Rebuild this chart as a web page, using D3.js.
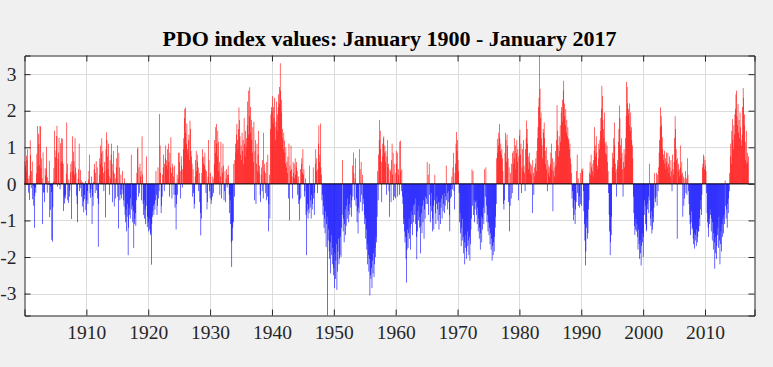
<!DOCTYPE html>
<html>
<head>
<meta charset="utf-8">
<script src="https://cdn.jsdelivr.net/npm/d3@7"></script>
<style>
  body { margin: 0; background: #f0f0f0; }
  svg text { font-family: "Liberation Serif", "Times New Roman", serif; }
</style>
</head>
<body>
<script>
// monthly PDO index, one decade per array (Jan..Dec each row)
let pdo1900s = [
  0.04, 0.62, 0.49, 0.35, 0.77, 0.65, 0.95, 0.14, -0.24, 0.23, -0.44, 1.19,
  0.79, -0.12, 0.35, 0.61, -0.42, -0.05, -0.60, -1.20, -0.33, -0.10, -0.24, 0.29,
  0.82, 1.58, 0.48, 1.37, 1.09, 0.52, 1.58, 1.57, 0.44, 0.70, 0.16, -1.10,
  0.86, -0.24, -0.22, -0.50, 0.43, 0.23, 0.40, 1.01, -0.24, 0.18, 0.08, -0.03,
  0.63, -0.91, -0.71, -0.07, -0.22, -1.53, -1.58, -0.64, 0.06, 0.43, 1.45, 0.06,
  0.73, 0.91, 1.31, 1.59, -0.07, 0.69, 0.85, 1.26, -0.03, -0.15, 1.11, 0.58,
  1.25, 0.62, 1.23, 0.55, -0.74, -0.36, -0.54, -0.40, -0.30, 0.28, 1.68, 0.55,
  -0.45, -0.52, 0.12, -0.35, -0.18, 0.32, 0.55, -0.96, 0.62, 1.30, 0.35, 0.88,
  0.62, 0.25, 1.25, 0.45, 0.30, -0.32, -0.55, -1.05, 0.15, 0.40, 1.10, -0.20,
  -0.12, 0.38, 0.10, -0.35, -0.62, 0.05, -0.48, -0.78, -0.30, -0.42, 0.08, -0.72
];
let pdo1910s = [
  -0.86, -0.45, -0.20, -0.55, 0.12, 0.35, 0.80, -0.25, -0.38, -0.15, 0.20, -1.10,
  -0.35, -0.60, 0.05, 0.40, 0.55, -0.25, 0.30, 0.62, -0.18, 0.45, -0.40, -1.72,
  -0.55, 0.25, 0.70, 1.05, 0.55, 0.85, 1.25, 0.45, 0.90, 0.30, -0.20, 0.60,
  0.35, -0.92, 0.95, 1.41, 1.20, 0.75, 0.40, 1.10, 0.22, -0.30, 0.65, 0.15,
  0.80, 1.10, 0.55, -0.50, 0.35, 0.90, -0.62, 0.28, 0.15, -0.40, 0.45, 0.70,
  1.05, -0.35, -1.22, 0.85, 0.45, -0.45, -0.30, 0.25, -0.40, -0.15, 0.35, -0.28,
  -0.45, -0.62, 0.15, -0.85, -1.05, -0.70, -1.30, -0.90, -0.55, -1.95, -1.20, -0.65,
  -0.85, -0.95, -0.40, 0.80, -0.70, -0.60, -1.05, -0.75, -1.75, -1.10, -0.95, -0.80,
  -1.15, -0.45, 0.30, 0.95, 1.00, -0.35, 0.45, -0.25, 0.55, 0.20, 0.35, -0.45,
  1.30, 0.25, -0.55, -0.85, -0.45, -0.95, -0.70, -1.10, -0.60, 0.75, -1.18, -0.90
];
let pdo1920s = [
  -1.05, -1.30, -1.25, -0.95, -1.40, -1.35, -2.21, -1.10, -0.90, -0.75, -0.60, -0.85,
  -0.55, -0.70, -0.45, 0.35, -0.30, -0.85, -0.60, 0.45, -0.40, -0.20, 1.91, 1.05,
  0.30, -0.80, -0.60, -0.35, 0.25, 0.45, 0.80, -0.20, 0.55, 0.70, 1.05, 0.50,
  0.65, 0.95, 0.40, 1.10, 0.60, -0.35, 0.85, 0.45, 1.27, 0.30, -0.40, 0.55,
  0.45, 0.20, -0.30, 0.50, -0.65, -0.30, -1.25, -0.55, 0.25, -0.30, 0.15, 0.85,
  0.85, 0.60, 0.35, -0.40, 0.75, 0.50, -0.10, 0.40, 0.95, 1.25, 1.80, 2.05,
  2.09, 1.40, 1.10, 1.65, 0.95, 0.80, 1.20, 1.35, 0.65, 1.73, 1.50, 0.90,
  0.75, 0.55, -0.35, 0.40, -0.25, -0.68, -0.55, 0.20, 0.65, 0.90, 0.35, 0.80,
  0.60, 0.45, -0.20, 0.30, -0.50, -0.80, -1.41, -0.95, 0.30, 0.95, 0.70, 0.55,
  0.75, 0.50, 0.85, 0.40, -0.25, 0.35, -0.70, -0.50, 0.20, 1.20, 0.65, -0.20
];
let pdo1930s = [
  -0.40, 0.30, -0.55, -0.45, 0.20, -0.35, 0.15, -0.25, 0.55, 1.20, 0.85, 1.55,
  1.64, 1.10, 0.75, 1.45, 1.15, 0.35, 0.60, -0.30, 0.20, 1.15, -0.40, 0.45,
  0.30, 1.10, 0.50, -0.45, -0.20, 0.35, -0.50, 0.15, 0.40, -0.10, 0.25, 0.50,
  0.25, -0.30, -0.80, -0.45, -1.10, -1.60, -2.27, -1.55, -1.20, -1.05, 0.55, -0.35,
  0.65, 1.10, 0.85, 1.35, 1.64, 1.20, 0.95, 1.50, 2.09, 1.75, 1.30, 0.80,
  1.05, 0.65, 1.40, 0.90, 1.20, 0.55, 1.80, 1.10, 0.75, 1.45, 1.00, 1.25,
  1.60, 2.25, 1.35, 2.55, 1.85, 2.64, 2.10, 1.40, 1.75, 1.20, 0.85, 1.55,
  0.60, 1.70, -0.45, 0.90, 1.20, -0.55, 0.55, 1.10, 0.35, 0.80, 1.45, 0.30,
  0.50, -0.30, -0.50, 0.25, 0.45, -0.20, 0.65, -0.40, 1.40, 0.35, 0.55, -0.25,
  0.30, -0.45, 0.60, -0.35, 0.80, -1.30, -0.55, 0.25, -0.95, 1.50, 1.90, 2.10
];
let pdo1940s = [
  2.00, 2.40, 1.65, 2.10, 1.80, 2.35, 1.55, 1.20, 1.70, 2.25, 1.45, 1.90,
  2.10, 2.45, 2.20, 2.65, 3.30, 2.55, 1.95, 2.30, 1.50, 1.25, 0.95, 1.40,
  1.18, 0.85, 0.55, 1.00, 0.45, 0.60, 0.30, 0.75, -0.40, 1.10, -1.00, 0.50,
  0.35, 1.05, 0.40, 0.20, -0.40, 0.60, 0.30, 0.55, 0.15, 0.70, 0.25, 0.45,
  0.60, 0.35, -0.30, 0.20, -0.55, -1.00, -0.45, 0.40, -0.40, 0.55, 0.70, 0.30,
  0.95, 0.25, 0.40, -0.35, -0.20, 0.15, -0.85, -1.95, -0.75, -0.55, -0.95, -0.70,
  -0.80, 0.50, -0.65, -0.45, -0.95, -0.30, -0.70, -0.55, 0.45, -0.40, -0.85, -0.25,
  0.55, 0.95, 0.35, 0.70, -0.25, 0.40, 1.10, 1.60, 0.60, 0.80, 1.65, 0.45,
  0.25, -0.45, -0.30, -0.85, -0.60, -1.20, -0.95, -1.35, -0.75, -1.73, -1.10, -0.90,
  -3.60, -1.55, -1.25, -1.85, -2.05, -1.60, -2.45, -1.40, -1.95, -2.20, -1.75, -2.50
];
let pdo1950s = [
  -2.30, -2.85, -1.90, -2.60, -2.10, -1.65, -2.90, -2.40, -1.85, -1.50, -2.20, -2.05,
  -1.95, -1.45, -2.00, -1.20, -0.85, 0.65, -1.30, -0.95, -1.60, -1.10, -0.70, -1.40,
  -1.15, -0.60, -0.95, -0.40, -0.75, -1.05, -0.55, -0.85, -0.30, -0.65, -0.90, -0.45,
  0.50, -0.35, 0.86, 0.30, -0.45, 0.15, 0.70, -0.60, -0.40, -1.05, -0.75, -1.36,
  -0.65, -0.80, 0.95, 0.40, -0.50, 0.60, -0.30, -0.75, 0.25, -0.55, -0.40, -0.85,
  -1.10, -0.95, -1.50, -1.25, -1.80, -2.20, -1.65, -1.95, -2.40, -2.05, -3.05, -2.50,
  -2.60, -2.30, -2.85, -2.10, -2.45, -1.90, -2.55, -2.20, -1.75, -2.00, -1.45, -1.60,
  -0.90, 0.35, -0.45, 0.80, 1.20, 1.75, 1.45, 0.95, 0.60, -0.50, 0.75, 1.10,
  1.25, 1.30, 0.85, 1.05, 0.60, 0.90, -0.30, 0.75, 1.20, 0.45, 0.55, -0.20,
  -0.90, 0.40, 0.35, -0.50, 0.65, 1.10, 0.25, 0.85, -0.45, 0.55, -0.35, 0.30
];
let pdo1960s = [
  -0.40, 0.90, 0.55, 0.85, -0.35, 0.40, 0.25, -0.30, 1.15, 1.18, 0.35, -0.20,
  0.40, -0.35, -0.55, -1.10, -0.95, -1.30, -1.60, -1.45, -2.05, -2.70, -1.80, -1.25,
  -1.75, -1.35, -0.95, -1.50, -1.20, -1.80, -0.75, -1.10, -0.85, -1.40, -0.60, -1.05,
  -0.55, -0.85, -1.10, -0.40, -1.45, -2.06, -1.30, -0.75, -1.00, -0.60, -1.20, -0.90,
  -1.90, -1.15, -0.80, -1.35, -0.60, -1.05, -0.45, -1.50, -0.70, -0.95, -0.35, -0.55,
  -0.40, 0.60, -0.55, 0.25, -0.85, 0.55, -0.30, -1.05, -0.60, -0.25, -0.75, -1.30,
  -0.95, -0.60, -1.25, -0.45, 0.25, -0.80, -1.10, -0.55, -0.35, -0.70, -1.00, -0.50,
  -1.25, -0.85, -0.50, -1.10, -0.65, -0.40, -0.95, -0.30, -0.75, -0.55, -0.25, -0.80,
  -0.60, -0.35, 0.50, -0.45, -0.25, -0.70, -0.20, -0.50, -0.85, -1.30, -0.40, -0.15,
  -0.35, 0.20, -0.15, 0.45, 0.85, -0.20, -0.70, 0.30, 0.55, 1.10, 1.42, 0.90
];
let pdo1970s = [
  1.20, 0.65, 0.35, -0.25, -1.05, -0.80, -1.35, -1.70, -1.20, -1.55, -0.95, -1.45,
  -1.90, -1.60, -2.20, -1.75, -1.40, -2.05, -1.85, -1.30, -1.70, -1.55, -1.95, -1.45,
  -2.10, -1.65, -1.25, -0.95, 0.40, -0.60, 0.35, -0.85, -0.45, -1.05, -0.70, -0.50,
  -0.45, -0.85, -1.10, -0.65, -1.30, -0.95, -1.50, -1.20, -1.80, -1.35, -0.90, -1.60,
  -1.25, -0.95, -0.65, -1.10, 0.40, -0.80, -0.35, 0.45, -0.60, -1.05, -0.85, -1.30,
  -1.05, -1.40, -1.20, -1.65, -1.35, -1.80, -1.50, -2.10, -1.70, -1.95, -1.60, -1.85,
  -1.45, -1.20, -0.90, -0.55, 0.70, 1.23, 0.85, 1.05, 1.40, 1.64, 1.25, 0.90,
  1.10, 0.80, 0.95, 0.70, 0.35, -0.55, -0.70, -0.45, 0.85, 1.40, 1.20, 0.60,
  1.35, 1.05, 0.70, -0.50, 0.45, -1.30, -0.60, 0.30, -0.40, 0.55, -0.25, 0.85,
  0.90, 0.55, 1.25, 0.70, 1.05, 0.40, 0.85, 1.20, 0.60, 0.95, -0.45, 0.75
];
let pdo1980s = [
  1.32, 1.48, 0.80, 1.10, -0.25, 0.45, 0.95, 0.35, 1.20, 0.50, 0.30, -0.20,
  0.95, 1.25, 1.73, 1.50, 1.10, 0.75, 0.40, 0.85, 0.60, 0.30, 0.55, 0.25,
  0.50, -0.80, 0.65, 0.30, -0.30, 0.45, 0.20, 0.55, 0.70, 0.35, 0.90, 1.25,
  1.55, 2.10, 2.35, 3.51, 2.60, 1.80, 1.95, 1.25, 1.05, 0.70, 1.50, 1.40,
  1.68, 1.25, 0.90, 0.55, 1.00, 0.40, -0.20, 0.65, 0.30, 0.50, 0.20, 0.45,
  0.55, 0.85, 1.10, 0.40, 0.70, -0.75, 0.35, 0.60, 0.20, 0.45, 0.90, 0.50,
  1.20, 2.15, 1.45, 1.05, 0.75, 1.30, 0.90, 1.60, 1.15, 1.95, 2.10, 1.70,
  2.30, 2.55, 2.82, 2.20, 1.85, 1.60, 2.05, 1.40, 1.75, 1.30, 1.55, 1.20,
  1.25, 0.95, 1.10, 0.70, 0.55, 0.30, -0.40, -0.20, -0.65, -1.00, -0.85, -0.45,
  -1.10, -0.70, -0.50, 0.35, 0.80, -0.25, 0.15, -0.60, -0.35, -0.65, 0.30, -0.55
];
let pdo1990s = [
  -0.60, 0.40, 0.35, 0.42, -0.20, -0.75, -1.10, -1.55, -2.23, -1.85, -1.20, -0.95,
  -1.50, -1.35, -0.70, -0.45, 0.30, 0.60, 0.25, 0.80, 0.45, 0.55, 0.35, 0.20,
  0.65, 0.90, 1.55, 1.05, 0.75, 1.30, 0.85, 0.50, 0.40, 0.70, 1.10, 0.95,
  1.20, 1.45, 1.80, 2.05, 2.68, 2.40, 1.75, 1.50, 1.25, 1.95, 1.10, 0.85,
  1.15, 0.80, 1.05, 0.60, 0.35, -0.25, -0.85, -1.30, -1.95, -1.60, -1.40, -0.90,
  0.45, 0.85, 0.70, 1.25, 1.68, 1.05, 0.55, 0.30, -0.35, 0.40, 0.65, 0.50,
  1.15, 1.50, 2.14, 1.80, 1.05, 0.70, 1.25, 0.85, 0.40, -0.35, 0.60, 0.95,
  0.45, 0.80, 1.25, 1.85, 2.79, 2.65, 2.20, 1.90, 2.05, 1.60, 2.20, 1.45,
  1.95, 1.55, 1.20, 1.05, 0.70, -0.35, -0.80, -1.15, -1.40, -1.25, -0.95, -1.30,
  -1.10, -1.45, -1.80, -1.25, -1.65, -2.05, -1.55, -1.90, -2.23, -1.70, -1.35, -1.60
];
let pdo2000s = [
  -2.00, -1.45, -0.85, -0.45, -0.60, -1.10, -1.30, -1.25, -0.70, -0.55, -0.35, -0.80,
  0.55, -0.45, -0.95, -1.15, -0.75, -1.36, -1.25, -0.90, -1.05, -0.65, 0.30, -0.40,
  -0.50, -0.35, 0.30, -0.60, 0.25, -0.20, 0.45, 0.85, 1.20, 1.55, 2.09, 1.85,
  1.60, 1.27, 0.95, 0.65, 0.80, 0.90, 0.55, 0.70, 0.40, 0.85, 0.60, 0.45,
  0.85, 0.55, 0.30, 0.75, 0.45, 0.20, 0.65, 0.35, -0.20, 0.80, 0.40, 0.25,
  0.60, 1.25, 1.85, 1.50, 0.95, 0.65, -1.50, 0.70, 0.35, 0.55, 0.40, 0.20,
  1.05, 0.45, 0.25, 0.60, 0.30, -0.90, 0.20, -0.60, -0.40, 0.15, 0.35, -0.25,
  0.15, -0.30, 0.70, 0.25, -0.20, -0.55, -0.85, -1.10, -1.40, -1.05, -0.75, -1.25,
  -1.20, -1.50, -1.65, -1.35, -1.77, -1.55, -1.40, -1.70, -1.25, -1.60, -1.45, -1.30,
  -1.30, -0.95, -1.15, -0.70, -0.45, -0.85, -0.30, 0.45, 0.55, 0.80, 0.75, 0.40
];
let pdo2010s = [
  0.65, 0.50, 0.35, -0.25, -0.80, -1.05, -1.20, -1.45, -0.95, -1.10, -0.70, -0.85,
  -1.30, -0.95, -1.55, -1.05, -1.80, -1.35, -1.60, -2.32, -1.90, -1.45, -2.05, -1.70,
  -1.40, -1.20, -1.75, -0.90, -1.55, -2.20, -1.65, -1.30, -1.85, -1.10, -1.45, -0.95,
  -1.35, -0.85, -1.10, 0.10, -0.60, -0.95, -0.70, -1.20, -0.55, -0.80, -0.40, -0.20,
  0.30, 0.75, 1.10, 0.55, 1.45, 1.77, 1.20, 0.95, 1.60, 1.35, 1.90, 2.05,
  2.45, 2.55, 1.85, 1.60, 2.18, 1.40, 1.75, 1.25, 1.95, 1.55, 1.20, 1.05,
  1.35, 2.10, 2.62, 2.35, 1.60, 1.90, 1.15, 0.65, 1.45, 0.55, 0.85, 0.60,
  0.75
];

let startYear = 1900;
let xTicks = [1910, 1920, 1930, 1940, 1950, 1960, 1970, 1980, 1990, 2000, 2010];
let yTicks = [-3, -2, -1, 0, 1, 2, 3];
let titleText = 'PDO index values: January 1900 - January 2017';

let pdo = [].concat(pdo1900s, pdo1910s, pdo1920s, pdo1930s, pdo1940s, pdo1950s,
                    pdo1960s, pdo1970s, pdo1980s, pdo1990s, pdo2000s, pdo2010s)
            .map((v, i) => { return { t: startYear + i / 12, v: v }; });

let W = 773, H = 367;
let padL = 24.5, padR = 754.5, padT = 55.5, padB = 315.5;
let serif = '"Liberation Serif", "Times New Roman", Times, serif';

let svg = d3.select('body').append('svg')
            .attr('width', W)
            .attr('height', H);

svg.append('rect').attr('width', W).attr('height', H).attr('fill', '#f0f0f0');
svg.append('rect')
   .attr('x', padL).attr('y', padT)
   .attr('width', padR - padL).attr('height', padB - padT)
   .attr('fill', '#fff');

let x = d3.scaleLinear().domain([1900, 2018]).range([padL, padR]);
let y = d3.scaleLinear().domain([-3.6, 3.51]).range([padB, padT]);

// grid
svg.append('g').selectAll('line').data(xTicks).enter().append('line')
   .attr('x1', (d) => Math.round(x(d)) + 0.5).attr('x2', (d) => Math.round(x(d)) + 0.5)
   .attr('y1', padT).attr('y2', padB)
   .attr('stroke', '#dcdcdc').attr('stroke-width', 1);
svg.append('g').selectAll('line').data(yTicks).enter().append('line')
   .attr('y1', (d) => Math.round(y(d)) + 0.5).attr('y2', (d) => Math.round(y(d)) + 0.5)
   .attr('x1', padL).attr('x2', padR)
   .attr('stroke', '#dcdcdc').attr('stroke-width', 1);

// bars; a bit wider than the month step so the antialiased columns come out saturated
let bw = 1.15 * (x(1901) - x(1900)) / 12;
let bars = svg.append('g');
bars.selectAll('rect.pos')
    .data(pdo.filter((d) => d.v > 0))
    .enter().append('rect')
    .attr('class', 'pos')
    .attr('x', (d) => x(d.t) - bw / 2)
    .attr('width', bw)
    .attr('y', (d) => y(d.v))
    .attr('height', (d) => y(0) - y(d.v))
    .attr('fill', '#ff0000');
bars.selectAll('rect.neg')
    .data(pdo.filter((d) => d.v < 0))
    .enter().append('rect')
    .attr('class', 'neg')
    .attr('x', (d) => x(d.t) - bw / 2)
    .attr('width', bw)
    .attr('y', y(0))
    .attr('height', (d) => y(d.v) - y(0))
    .attr('fill', '#0000ff');

// baseline
svg.append('line')
   .attr('x1', padL).attr('x2', padR)
   .attr('y1', y(0)).attr('y2', y(0))
   .attr('stroke', '#000').attr('stroke-width', 1);

// axes, matlab style: ticks inward on all four sides
let fmtY = (d) => String(d);   // plain hyphen minus like the original
let xAxisB = d3.axisBottom(x).tickValues(xTicks).tickSize(-6).tickPadding(10).tickFormat(d3.format('d'));
let xAxisT = d3.axisTop(x).tickValues(xTicks).tickSize(-6).tickFormat('');
let yAxisL = d3.axisLeft(y).tickValues(yTicks).tickSize(-6).tickPadding(8).tickFormat(fmtY);
let yAxisR = d3.axisRight(y).tickValues(yTicks).tickSize(-6).tickFormat('');

svg.append('g').attr('transform', 'translate(0,' + padB + ')').call(xAxisB);
svg.append('g').attr('transform', 'translate(0,' + padT + ')').call(xAxisT);
svg.append('g').attr('transform', 'translate(' + padL + ',0)').call(yAxisL);
svg.append('g').attr('transform', 'translate(' + padR + ',0)').call(yAxisR);

svg.selectAll('.domain').attr('stroke', '#262626');
svg.selectAll('.tick line').attr('stroke', '#262626');
svg.selectAll('.tick text')
   .attr('fill', '#262626')
   .style('font-family', serif)
   .style('font-size', '19.5px');

svg.append('text')
   .attr('x', (padL + padR) / 2)
   .attr('y', 46)
   .attr('text-anchor', 'middle')
   .style('font-family', serif)
   .style('font-size', '22px')
   .style('font-weight', 'bold')
   .attr('fill', '#000')
   .text(titleText);
</script>
</body>
</html>
